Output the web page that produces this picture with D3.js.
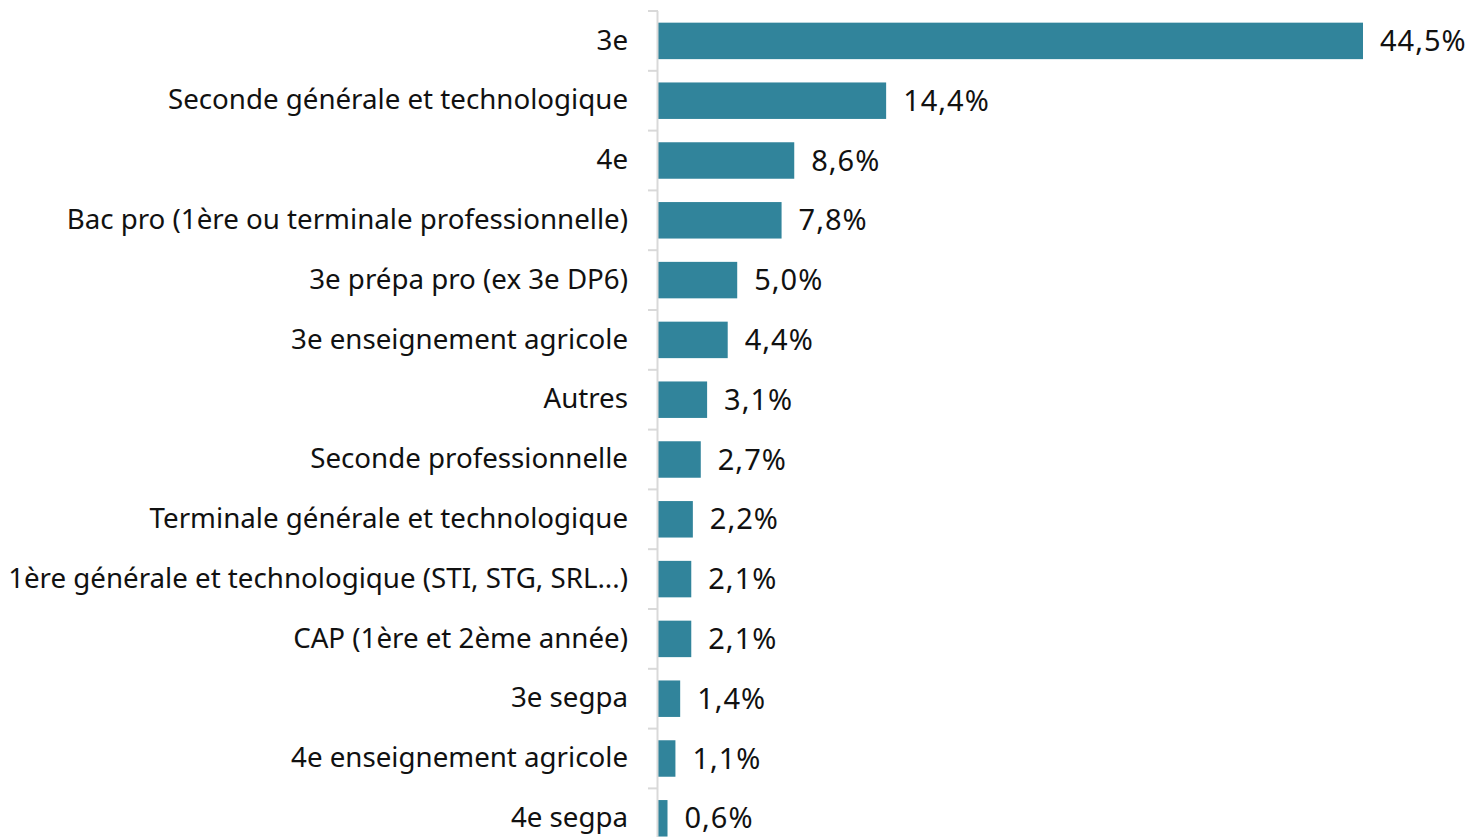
<!DOCTYPE html>
<html>
<head>
<meta charset="utf-8">
<script src="https://cdn.jsdelivr.net/npm/d3@7"></script>
<style>
  body { margin: 0; background: #fff; overflow: hidden; }
  text { font-family: "Noto Sans", "Lato", sans-serif; fill: #111; }
</style>
</head>
<body>
<div class="chart"></div>
<script>
// data
var categories = ["3e", "Seconde générale et technologique", "4e",
    "Bac pro (1ère ou terminale professionnelle)", "3e prépa pro (ex 3e DP6)",
    "3e enseignement agricole", "Autres", "Seconde professionnelle",
    "Terminale générale et technologique", "1ère générale et technologique (STI, STG, SRL...)",
    "CAP (1ère et 2ème année)", "3e segpa", "4e enseignement agricole", "4e segpa"];
var values = [44.5, 14.4, 8.6, 7.8, 5.0, 4.4, 3.1, 2.7, 2.2, 2.1, 2.1, 1.4, 1.1, 0.6];

var width = 1469, height = 837;
var axisX = 658;

var svg = d3.select(".chart").append("svg")
    .attr("width", width)
    .attr("height", height);

var x = d3.scaleLinear()
    .domain([0, 44.5])
    .range([axisX, 1363]);

var y = d3.scaleBand()
    .domain(categories)
    .range([11, 11 + 14 * 59.8])
    .paddingInner(0.39)
    .paddingOuter(0.195);

//bars
svg.selectAll("rect.bar")
    .data(values)
    .enter().append("rect")
    .attr("class", "bar")
    .attr("x", x(0))
    .attr("y", (d, i) => y(categories[i]))
    .attr("width", d => x(d) - x(0))
    .attr("height", y.bandwidth())
    .attr("fill", "#31849b");

//axis line and ticks at band boundaries
var bounds = categories.map(c => y(c) - y.step() * y.paddingInner() / 2);
svg.append("line")
    .attr("x1", axisX - 0.5).attr("x2", axisX - 0.5)
    .attr("y1", bounds[0]).attr("y2", height)
    .attr("stroke", "#d9d9d9")
    .attr("stroke-width", 2);
svg.selectAll("line.tick")
    .data(bounds)
    .enter().append("line")
    .attr("class", "tick")
    .attr("x1", axisX - 10).attr("x2", axisX)
    .attr("y1", d => d).attr("y2", d => d)
    .attr("stroke", "#d9d9d9")
    .attr("stroke-width", 2);

//category labels
svg.selectAll("text.cat")
    .data(categories)
    .enter().append("text")
    .attr("class", "cat")
    .attr("x", 628)
    .attr("y", d => y(d) + y.bandwidth() / 2 - 1)
    .attr("dy", "0.35em")
    .attr("text-anchor", "end")
    .attr("font-size", 27.7)
    .text(d => d);

//value labels
svg.selectAll("text.val")
    .data(values)
    .enter().append("text")
    .attr("class", "val")
    .attr("x", d => x(d) + 17)
    .attr("y", (d, i) => y(categories[i]) + y.bandwidth() / 2)
    .attr("dy", "0.35em")
    .attr("font-size", 29)
    .attr("letter-spacing", 1)
    .text(d => d.toFixed(1).replace(".", ",") + "%");
</script>
</body>
</html>
